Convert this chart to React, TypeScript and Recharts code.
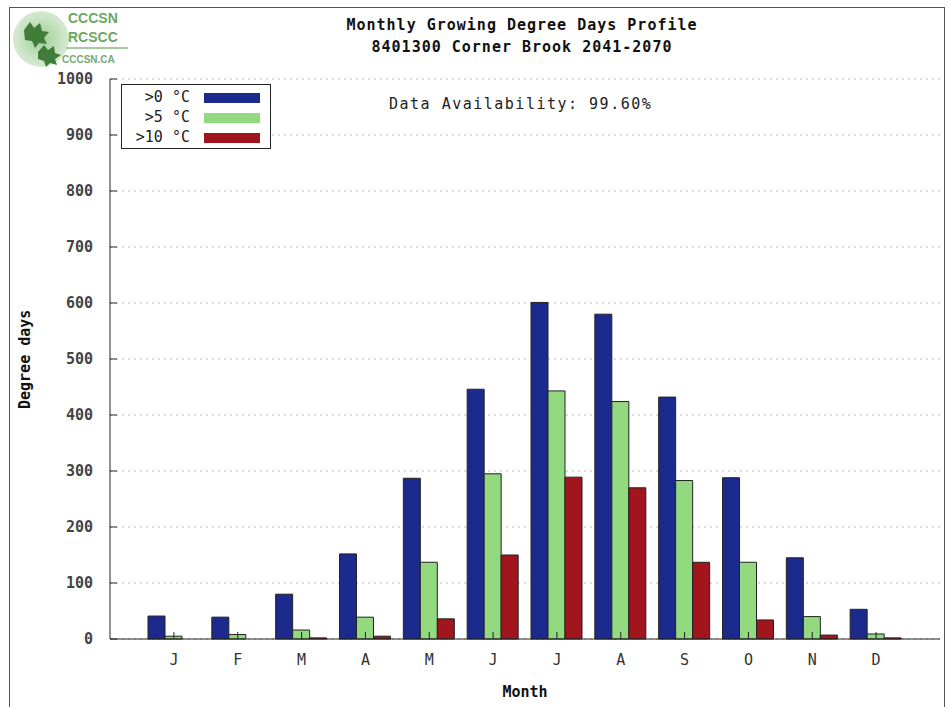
import { BarChart, Bar, XAxis, YAxis, CartesianGrid } from 'recharts';

const months = ['J', 'F', 'M', 'A', 'M', 'J', 'J', 'A', 'S', 'O', 'N', 'D'];
const above0 = [41, 39, 80, 152, 287, 446, 601, 580, 432, 288, 145, 53];
const above5 = [5, 8, 16, 39, 137, 295, 443, 424, 283, 137, 40, 9];
const above10 = [0, 0, 2, 5, 36, 150, 289, 270, 137, 34, 7, 2];
const yTicks = [0, 100, 200, 300, 400, 500, 600, 700, 800, 900, 1000];

const seriesNames = ['>0 °C', '>5 °C', '>10 °C'];
const seriesColors = ['#1c2a8e', '#93d97f', '#a1161c'];

const data = months.map((m, i) => ({
  key: `${m}${i}`,
  m,
  a: above0[i],
  b: above5[i],
  c: above10[i],
}));

const FONT = '"DejaVu Sans Mono", "Liberation Mono", monospace';

const Logo = () => (
  <svg width={130} height={70} style={{ position: 'absolute', left: 10, top: 8 }}>
    <defs>
      <radialGradient id="lg" cx="50%" cy="50%" r="50%">
        <stop offset="0%" stopColor="#9fcf95" />
        <stop offset="100%" stopColor="#d6ead2" />
      </radialGradient>
    </defs>
    <circle cx={31} cy={31} r={28} fill="url(#lg)" />
    <path d="M14 22 l6 -8 l4 6 l6 -5 l2 8 l7 1 l-5 6 l3 6 l-8 -1 l-4 5 l-3 -7 l-7 -1 z" fill="#3f7d39" />
    <path d="M28 44 l6 -7 l4 5 l6 -4 l1 7 l6 2 l-6 4 l2 6 l-7 -2 l-4 4 l-2 -6 l-6 -2 z" fill="#3f7d39" />
    <text x={58} y={15} fontFamily="Liberation Sans, Arial, sans-serif" fontWeight="bold" fontSize={14} fill="#6aa85f">CCCSN</text>
    <text x={58} y={34} fontFamily="Liberation Sans, Arial, sans-serif" fontWeight="bold" fontSize={14} fill="#6aa85f">RCSCC</text>
    <line x1={56} y1={40} x2={118} y2={40} stroke="#8aba80" strokeWidth={1.5} />
    <text x={52} y={55} fontFamily="Liberation Sans, Arial, sans-serif" fontWeight="bold" fontSize={10} fill="#7aa874">CCCSN.CA</text>
  </svg>
);

const ChartLegend = () => (
  <div
    style={{
      position: 'absolute',
      left: 121,
      top: 84,
      width: 150,
      height: 65,
      border: '1px solid #222',
      background: '#fff',
      fontFamily: FONT,
      fontSize: 15,
      color: '#222',
      boxSizing: 'border-box',
    }}
  >
    {seriesNames.map((n, i) => (
      <div key={n} style={{ position: 'absolute', top: 2 + i * 20, left: 0, width: 150, height: 20 }}>
        <span style={{ position: 'absolute', right: 82, top: 1, whiteSpace: 'nowrap' }}>{n}</span>
        <span
          style={{
            position: 'absolute',
            left: 82,
            top: 6,
            width: 56,
            height: 10,
            background: seriesColors[i],
          }}
        />
      </div>
    ))}
  </div>
);

export default function App() {
  return (
    <div style={{ position: 'absolute', left: 0, top: 0, width: 948, height: 707, background: '#fff', overflow: 'hidden' }}>
      <div
        style={{
          position: 'absolute',
          left: 9,
          top: 7,
          width: 936,
          height: 710,
          border: '1px solid #555',
          boxSizing: 'border-box',
        }}
      />
      <Logo />
      <div
        style={{
          position: 'absolute',
          left: 222,
          width: 600,
          top: 14,
          textAlign: 'center',
          fontFamily: FONT,
          fontWeight: 'bold',
          fontSize: 15,
          letterSpacing: 1,
          lineHeight: '22px',
          color: '#111',
        }}
      >
        <div>Monthly Growing Degree Days Profile</div>
        <div>8401300 Corner Brook 2041-2070</div>
      </div>
      <BarChart
        width={948}
        height={707}
        data={data}
        margin={{ top: 79, right: 8, bottom: 38, left: 50 }}
        barCategoryGap={6}
        barGap={0}
        style={{ position: 'absolute', left: 0, top: 0 }}
      >
        <CartesianGrid horizontal vertical={false} stroke="#bbb" strokeDasharray="2 4" />
        <XAxis
          dataKey="key"
          tickFormatter={(v: string) => v.charAt(0)}
          padding={{ left: 32, right: 32 }}
          height={30}
          stroke="#222"
          tickSize={-7}
          tickMargin={22}
          tick={{ fill: '#333', fontFamily: FONT, fontSize: 15 }}
          interval={0}
          label={{ value: 'Month', position: 'insideBottom', offset: -28, fill: '#111', fontFamily: FONT, fontSize: 15, fontWeight: 'bold' }}
        />
        <XAxis
          xAxisId="top"
          orientation="top"
          dataKey="key"
          padding={{ left: 32, right: 32 }}
          height={0}
          stroke="#222"
          tickSize={-7}
          tick={false}
          interval={0}
        />
        <YAxis
          domain={[0, 1000]}
          ticks={yTicks}
          width={60}
          stroke="#222"
          tickSize={-7}
          tickMargin={24}
          interval={0}
          tick={{ fill: '#444', fontFamily: FONT, fontSize: 15, fontWeight: 'bold' }}
          label={{ value: 'Degree days', angle: -90, position: 'insideLeft', offset: -25, dy: 50, fill: '#111', fontFamily: FONT, fontSize: 15, fontWeight: 'bold' }}
        />
        <YAxis
          yAxisId="right"
          orientation="right"
          domain={[0, 1000]}
          ticks={yTicks}
          width={0}
          stroke="#222"
          tickSize={-7}
          tick={false}
          interval={0}
        />
        <Bar dataKey="a" name={seriesNames[0]} fill={seriesColors[0]} stroke="#222" strokeWidth={1} isAnimationActive={false} />
        <Bar dataKey="b" name={seriesNames[1]} fill={seriesColors[1]} stroke="#222" strokeWidth={1} isAnimationActive={false} />
        <Bar dataKey="c" name={seriesNames[2]} fill={seriesColors[2]} stroke="#222" strokeWidth={1} isAnimationActive={false} />
      </BarChart>
      <ChartLegend />
      <div
        style={{
          position: 'absolute',
          left: 389,
          top: 95,
          fontFamily: FONT,
          fontSize: 15,
          letterSpacing: 1.5,
          color: '#222',
          whiteSpace: 'nowrap',
        }}
      >
        Data Availability: 99.60%
      </div>
    </div>
  );
}
